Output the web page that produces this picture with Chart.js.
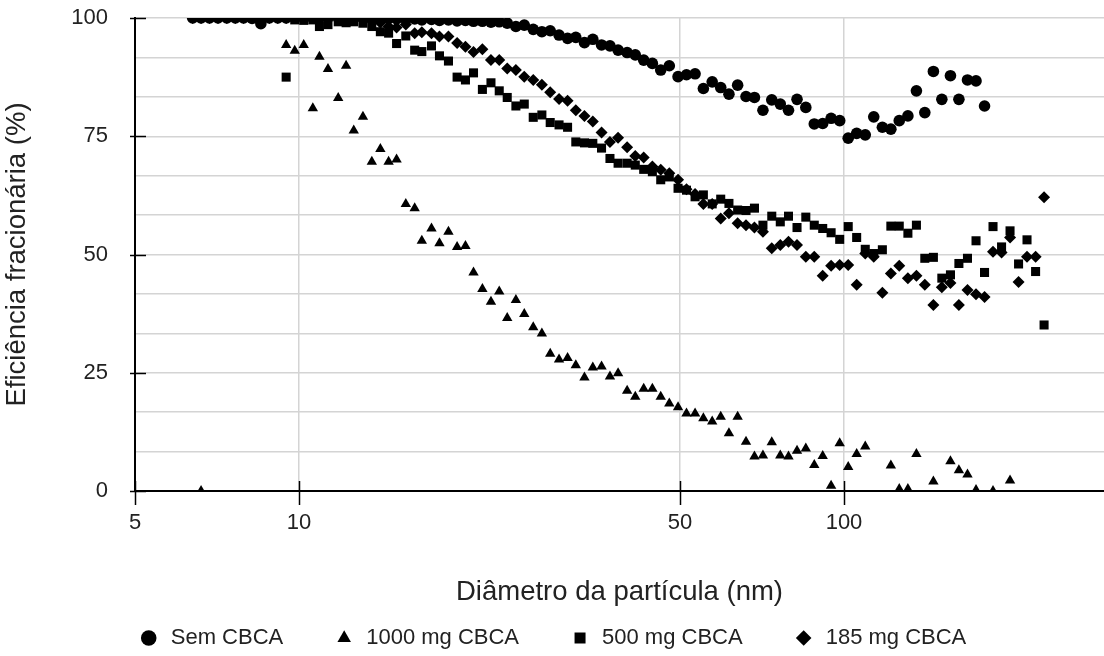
<!DOCTYPE html>
<html lang="pt">
<head>
<meta charset="utf-8">
<title>Eficiência fracionária</title>
<script src="https://cdn.jsdelivr.net/npm/chart.js@4.4.1/dist/chart.umd.min.js"></script>
<style>
  html, body { margin: 0; padding: 0; background: #fff; overflow: hidden; }
  #quadro { width: 1104px; height: 656px; position: relative; }
</style>
</head>
<body>
<div id="quadro"><canvas id="grafico"></canvas></div>
<script>
// Diâmetros médios dos canais (nm), 64 canais por década
const diametros = [
    6.38, 6.61, 6.85, 7.10, 7.37, 7.64, 7.91, 8.20, 8.51, 8.82,
    9.14, 9.47, 9.82, 10.2, 10.6, 10.9, 11.3, 11.8, 12.2, 12.6,
    13.1, 13.6, 14.1, 14.6, 15.1, 15.7, 16.3, 16.8, 17.5, 18.1,
    18.8, 19.5, 20.2, 20.9, 21.7, 22.5, 23.3, 24.1, 25.0, 25.9,
    26.9, 27.9, 28.9, 30.0, 31.1, 32.2, 33.4, 34.6, 35.9, 37.2,
    38.5, 40.0, 41.4, 42.9, 44.5, 46.1, 47.8, 49.6, 51.4, 53.3,
    55.2, 57.3, 59.4, 61.5, 63.8, 66.1, 68.5, 71.0, 73.7, 76.4,
    79.1, 82.0, 85.1, 88.2, 91.4, 94.7, 98.2, 101.8, 105.5, 109.4,
    113.4, 117.6, 121.9, 126.3, 131.0, 135.8, 140.7, 145.9, 151.2, 156.8,
    162.5, 168.5, 174.7, 181.1, 187.7, 194.6, 201.7, 209.1, 216.7, 224.7,
    232.9
];

// Eficiência fracionária (%) por canal
const semCBCA = [
    100, 100, 100, 100, 100, 100, 100, 99.9, 98.8, 100,
    100, 100, 100, 100, 100, 100, 100, 100, 100, 100,
    100, 100, 100, 99.9, 99.8, 99.7, 99.8, 99.6, 99.7, 99.5,
    99.6, 99.4, 99.5, 99.3, 99.3, 99.1, 99.2, 98.9, 98.2, 98.5,
    97.6, 97.1, 97.3, 96.4, 95.7, 95.9, 94.8, 95.5, 94.3, 94.1,
    93.2, 92.7, 92.2, 91.1, 90.4, 89.0, 89.9, 87.6, 88.0, 88.2,
    85.1, 86.5, 85.3, 83.9, 85.8, 83.4, 83.2, 80.5, 82.7, 81.8,
    80.5, 82.8, 81.1, 77.6, 77.7, 78.8, 78.3, 74.6, 75.6, 75.3,
    79.1, 76.9, 76.5, 78.3, 79.3, 84.6, 80.0, 88.7, 82.8, 87.8,
    82.8, 86.9, 86.7, 81.4, null, null, null, null, null, null,
    null
];

const mg1000 = [
    null, 0, null, null, null, null, null, null, null, null,
    null, 94.3, 93.1, 94.3, 80.9, 91.8, 89.2, 83.1, 89.9, 76.2,
    79.1, 69.6, 72.3, 69.6, 70.1, 60.7, 59.8, 52.9, 55.5, 52.4,
    54.8, 51.6, 51.8, 46.2, 42.7, 40.0, 42.2, 36.6, 40.4, 37.4,
    34.6, 33.3, 29.0, 27.8, 28.1, 26.6, 24.0, 26.1, 26.3, 24.2,
    24.9, 21.2, 19.9, 21.6, 21.6, 19.9, 18.5, 17.7, 16.4, 16.4,
    15.4, 14.7, 15.7, 12.2, 15.7, 10.4, 7.3, 7.5, 10.3, 7.5,
    7.3, 8.5, 9.0, 5.5, 7.4, 1.1, 10.1, 5.1, 7.8, 9.4,
    null, null, 5.4, 0.4, 0.4, 7.8, null, 2.0, null, 6.3,
    4.4, 3.5, 0.2, null, 0, null, 2.2, null, null, null,
    null
];

const mg500 = [
    null, null, null, null, null, null, null, null, null, null,
    null, 87.5, 99.6, 99.5, 99.6, 98.2, 98.6, 99.2, 99.0, 99.2,
    98.9, 98.2, 97.1, 96.8, 94.6, 96.2, 93.2, 92.9, 94.1, 92.0,
    90.9, 87.5, 86.9, 88.4, 84.9, 86.3, 84.6, 83.2, 81.4, 81.8,
    79.0, 79.5, 77.9, 77.4, 76.9, 73.8, 73.6, 73.5, 72.5, 70.3,
    69.3, 69.3, 68.9, 68.0, 67.5, 65.8, 66.4, 64.0, 63.6, 62.2,
    62.6, 60.7, 61.7, 60.8, 59.4, 59.3, 59.8, 56.2, 58.1, 56.9,
    58.1, 55.7, 57.9, 56.2, 55.5, 54.6, 53.2, 55.9, 53.6, 51.1,
    50.2, 51.0, 56.0, 56.0, 54.5, 56.2, 49.2, 49.4, 45.0, 45.7,
    48.1, 49.2, 52.9, 46.2, 55.9, 51.6, 55.0, 48.0, 53.1, 46.4,
    35.1
];

const mg185 = [
    100, 100, 100, 100, 100, 100, 100, 100, 100, 100,
    100, 100, 100, 100, 100, 100, 100, 100, 100, 100,
    99.6, 99.3, 99.0, 98.2, 98.0, 98.6, 96.8, 97.0, 96.8, 96.1,
    96.1, 94.7, 93.9, 92.8, 93.4, 91.1, 91.1, 89.3, 89.0, 87.6,
    86.9, 85.9, 84.3, 82.9, 82.5, 80.5, 79.3, 78.1, 75.8, 73.8,
    74.7, 72.7, 70.8, 70.5, 68.6, 67.9, 67.2, 65.8, 63.8, 62.8,
    60.7, 60.7, 57.6, 58.7, 56.6, 56.2, 55.7, 54.8, 51.3, 52.0,
    52.7, 52.0, 49.5, 49.5, 45.5, 47.6, 47.8, 47.8, 43.6, 50.2,
    49.5, 41.9, 46.0, 47.6, 45.0, 45.5, 43.6, 39.3, 43.1, 44.0,
    39.3, 42.5, 41.6, 41.0, 50.6, 50.4, 53.6, 44.2, 49.5, 49.5,
    62.1
];

const ticksX = [5, 10, 50, 100];
const ticksYRotulados = [0, 25, 50, 75, 100];

const corTexto = '#222';
const fonte = "'Liberation Sans', Arial, sans-serif";

function pontos(valores) {
    return diametros
        .map((d, i) => ({ x: d, y: valores[i] }))
        .filter(p => p.y !== null);
}

// Marcas pretas nos eixos, como no original
const marcasEixos = {
    id: 'marcasEixos',
    afterDraw(chart) {
        const { ctx, chartArea, scales } = chart;
        ctx.save();
        ctx.strokeStyle = '#000';
        ctx.lineWidth = 1.5;
        ticksYRotulados.forEach(v => {
            const py = Math.round(scales.y.getPixelForValue(v)) + 0.5;
            ctx.beginPath();
            ctx.moveTo(chartArea.left - 5, py);
            ctx.lineTo(chartArea.left + 11, py);
            ctx.stroke();
        });
        ticksX.forEach(v => {
            const px = Math.round(scales.x.getPixelForValue(v)) + 0.5;
            ctx.beginPath();
            ctx.moveTo(px, chartArea.bottom - 10);
            ctx.lineTo(px, chartArea.bottom + 14);
            ctx.stroke();
        });
        ctx.restore();
    }
};

const conjunto = (rotulo, valores, estilo, raio) => ({
    label: rotulo,
    data: pontos(valores),
    pointStyle: estilo,
    pointRadius: raio,
    pointHoverRadius: raio,
    pointBackgroundColor: '#000',
    pointBorderWidth: 0,
    backgroundColor: '#000',
    borderColor: '#000',
    borderWidth: 0,
    clip: 0
});

new Chart(document.getElementById('grafico').getContext('2d'), {
    type: 'scatter',
    data: {
        datasets: [
            conjunto('Sem CBCA', semCBCA, 'circle', 5.8),
            conjunto('1000 mg CBCA', mg1000, 'triangle', 6),
            conjunto('500 mg CBCA', mg500, 'rect', 6.4),
            conjunto('185 mg CBCA', mg185, 'rectRot', 6)
        ]
    },
    options: {
        responsive: true,
        maintainAspectRatio: false,
        animation: false,
        layout: { autoPadding: false, padding: { top: 18, right: 0, left: 0, bottom: -3 } },
        scales: {
            x: {
                type: 'logarithmic',
                min: 5,
                max: 300,
                afterBuildTicks: scale => { scale.ticks = ticksX.map(v => ({ value: v })); },
                afterFit: scale => {
                    scale.height = 86;
                    scale.paddingLeft = 0;
                    scale.paddingRight = 0;
                },
                ticks: {
                    autoSkip: false,
                    maxRotation: 0,
                    padding: 19,
                    color: corTexto,
                    font: { family: fonte, size: 22 },
                    callback: v => String(v)
                },
                grid: {
                    drawTicks: false,
                    lineWidth: 1.5,
                    color: ctx => (ctx.tick && ctx.tick.value === 5) ? 'rgba(0,0,0,0)' : '#d4d4d4'
                },
                border: { display: true, color: '#000', width: 2 },
                title: {
                    display: true,
                    text: 'Diâmetro da partícula (nm)',
                    color: corTexto,
                    font: { family: fonte, size: 27.5 },
                    padding: { top: 0, bottom: -32 }
                }
            },
            y: {
                min: 0,
                max: 100,
                afterBuildTicks: scale => {
                    const lista = [];
                    for (let i = 0; i <= 12; i++) lista.push({ value: i * 100 / 12 });
                    scale.ticks = lista;
                },
                afterFit: scale => {
                    scale.width = 135;
                    scale.paddingTop = 0;
                    scale.paddingBottom = 0;
                },
                ticks: {
                    autoSkip: false,
                    padding: 27,
                    color: corTexto,
                    font: { family: fonte, size: 22 },
                    callback: v => {
                        const r = Math.round(v);
                        return (Math.abs(v - r) < 1e-6 && r % 25 === 0) ? String(r) : '';
                    }
                },
                grid: {
                    drawTicks: false,
                    lineWidth: 1.5,
                    color: ctx => (ctx.tick && ctx.tick.value === 0) ? 'rgba(0,0,0,0)' : '#d4d4d4'
                },
                border: { display: true, color: '#000', width: 2 },
                title: {
                    display: true,
                    text: 'Eficiência fracionária (%)',
                    color: corTexto,
                    font: { family: fonte, size: 27.5 },
                    padding: { top: 1, bottom: 0 }
                }
            }
        },
        plugins: {
            legend: {
                position: 'bottom',
                labels: {
                    usePointStyle: true,
                    boxHeight: 11,
                    padding: 50,
                    color: corTexto,
                    font: { family: fonte, size: 22 }
                }
            },
            tooltip: { enabled: false }
        }
    },
    plugins: [marcasEixos]
});
</script>
</body>
</html>
